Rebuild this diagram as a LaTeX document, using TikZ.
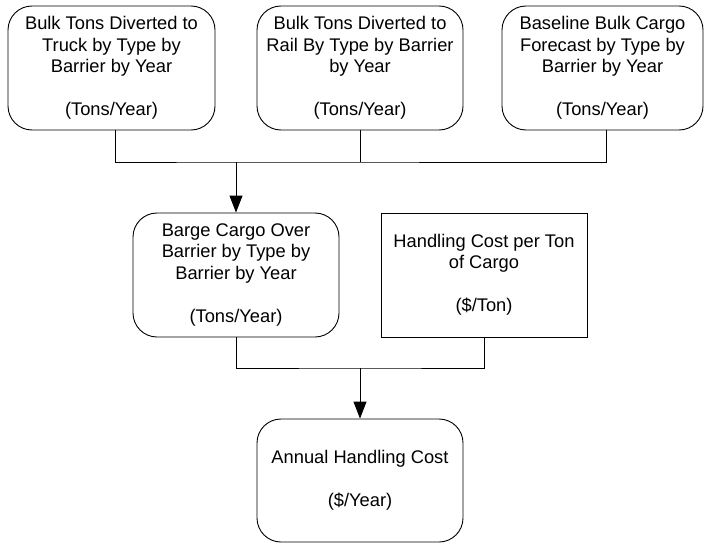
\documentclass[tikz,border=0pt]{standalone}
\usepackage{fontspec}
\setmainfont{Liberation Sans}
\usetikzlibrary{arrows.meta}
\begin{document}
\begin{tikzpicture}[x=1pt,y=-1pt,
  box/.style={draw=black,line width=0.9pt,rectangle,minimum width=#1,minimum height=124pt,inner sep=0pt,align=center,
     font=\fontsize{18.3}{21.5}\selectfont},
  rbox/.style={box=#1,rounded corners=24pt},
  conn/.style={draw=black,line width=0.9pt},
  arr/.style={conn,-{Triangle[length=17pt,width=13pt]}}]
\useasboundingbox (0,0) rectangle (704,543);
\node[rbox=207pt] (b1) at (111.5,68) {Bulk Tons Diverted to\\Truck by Type by\\Barrier by Year\\[21.5pt](Tons/Year)};
\node[rbox=206pt] (b2) at (360,68) {Bulk Tons Diverted to\\Rail By Type by Barrier\\by Year\\[21.5pt](Tons/Year)};
\node[rbox=201pt] (b3) at (602.5,68) {Baseline Bulk Cargo\\Forecast by Type by\\Barrier by Year\\[21.5pt](Tons/Year)};
\node[rbox=206pt] (b4) at (236,275) {Barge Cargo Over\\Barrier by Type by\\Barrier by Year\\[21.5pt](Tons/Year)};
\node[box=206pt] (b5) at (484,275) {Handling Cost per Ton\\of Cargo\\[21.5pt](\$/Ton)};
\node[rbox=206pt,minimum height=123pt] (b6) at (360,480.5) {Annual Handling Cost\\[21.5pt](\$/Year)};
\coordinate (j1) at (236,162);
\coordinate (j2) at (360,368);
\draw[conn] ([xshift=3.5pt]b1.south) |- (j1) -| ([xshift=3.5pt]b3.south);
\draw[conn] (b2.south) -- (b2.south |- j1);
\draw[arr] (j1) -- (b4.north);
\draw[conn] (b4.south) |- (j2) -| (b5.south);
\draw[arr] (j2) -- (b6.north);
\end{tikzpicture}
\end{document}
